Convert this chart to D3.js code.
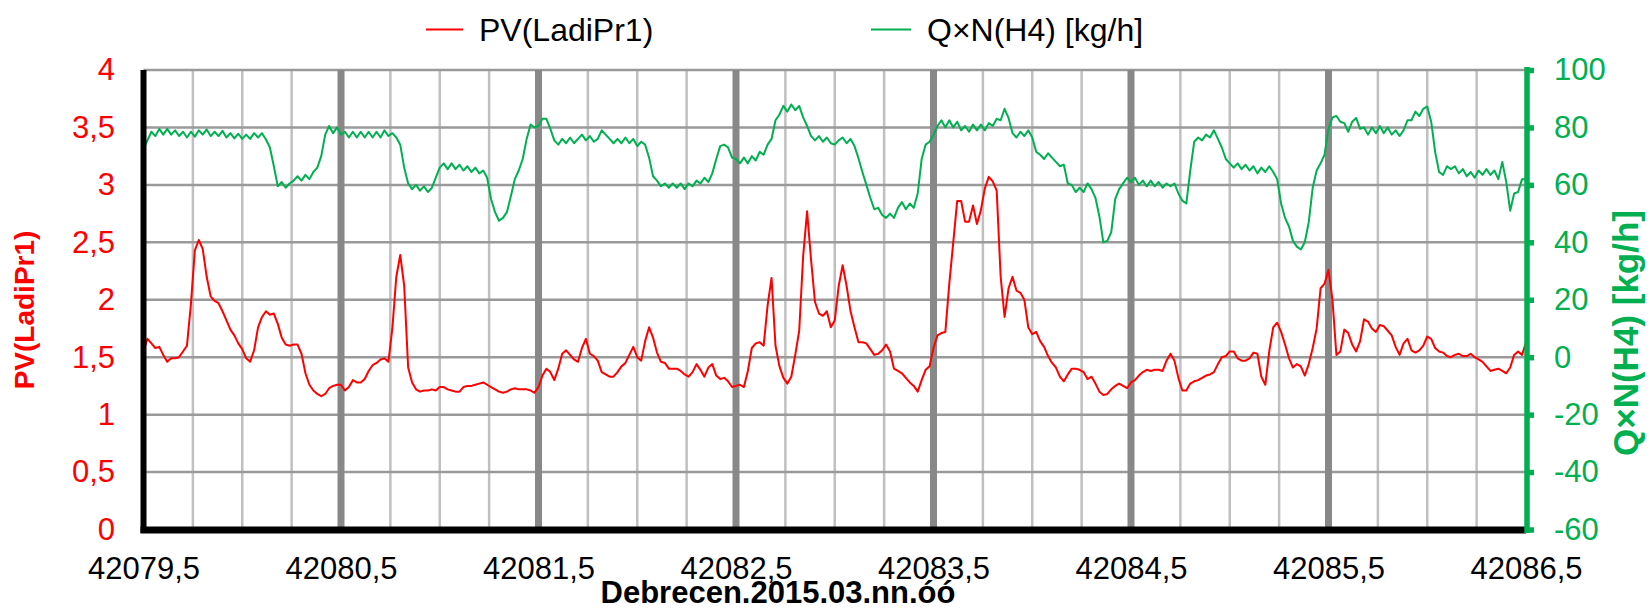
<!DOCTYPE html>
<html><head><meta charset="utf-8">
<script src="https://cdn.jsdelivr.net/npm/d3@7"></script>
<style>body{margin:0;background:#fff;overflow:hidden} text{font-family:"Liberation Sans",Arial,sans-serif}</style>
</head><body><svg id="c" width="1651" height="609"></svg>
<script>
// time axis: start day and sampling step (days)
const t0 = 42079.5, dt = 0.02;
// PV(LadiPr1)
const pv = [
1.55,1.66,1.62,1.58,1.59,1.52,1.46,1.49,1.49,1.50,
1.55,1.60,1.96,2.43,2.52,2.44,2.20,2.03,1.99,1.97,
1.90,1.82,1.74,1.69,1.62,1.57,1.49,1.46,1.56,1.76,
1.85,1.90,1.87,1.88,1.79,1.67,1.61,1.60,1.61,1.61,
1.53,1.36,1.26,1.21,1.18,1.16,1.18,1.23,1.25,1.26,
1.26,1.21,1.24,1.30,1.28,1.28,1.31,1.38,1.43,1.45,
1.48,1.49,1.46,1.75,2.20,2.39,2.12,1.41,1.28,1.22,
1.20,1.21,1.21,1.22,1.21,1.24,1.24,1.22,1.21,1.20,
1.20,1.24,1.25,1.25,1.26,1.27,1.28,1.26,1.24,1.22,
1.20,1.19,1.20,1.22,1.23,1.22,1.22,1.22,1.21,1.19,
1.24,1.34,1.40,1.37,1.30,1.40,1.53,1.56,1.52,1.48,
1.46,1.58,1.66,1.53,1.51,1.47,1.37,1.35,1.33,1.33,
1.37,1.42,1.45,1.52,1.59,1.50,1.47,1.64,1.76,1.67,
1.54,1.46,1.45,1.40,1.40,1.40,1.38,1.35,1.33,1.37,
1.44,1.39,1.33,1.41,1.44,1.34,1.31,1.32,1.29,1.24,
1.25,1.26,1.24,1.38,1.58,1.62,1.63,1.60,1.95,2.19,
1.60,1.42,1.32,1.27,1.33,1.52,1.73,2.38,2.77,2.35,
1.98,1.88,1.86,1.90,1.76,1.82,2.12,2.30,2.12,1.90,
1.76,1.63,1.63,1.62,1.57,1.52,1.53,1.56,1.61,1.55,
1.40,1.38,1.36,1.32,1.28,1.25,1.20,1.30,1.39,1.42,
1.58,1.69,1.71,1.72,2.14,2.50,2.86,2.86,2.68,2.68,
2.82,2.66,2.78,2.97,3.07,3.03,2.95,2.20,1.85,2.10,
2.20,2.08,2.06,2.00,1.76,1.70,1.72,1.64,1.59,1.51,
1.45,1.41,1.33,1.29,1.35,1.40,1.40,1.39,1.37,1.31,
1.33,1.27,1.20,1.17,1.18,1.22,1.25,1.27,1.25,1.23,
1.28,1.30,1.34,1.37,1.39,1.38,1.39,1.39,1.38,1.47,
1.53,1.47,1.32,1.21,1.21,1.27,1.29,1.30,1.32,1.34,
1.35,1.37,1.44,1.50,1.51,1.55,1.55,1.49,1.47,1.47,
1.49,1.54,1.53,1.33,1.26,1.55,1.76,1.80,1.72,1.61,
1.49,1.41,1.44,1.42,1.34,1.44,1.58,1.75,2.10,2.14,
2.26,2.00,1.52,1.55,1.74,1.71,1.61,1.55,1.64,1.83,
1.81,1.75,1.72,1.78,1.77,1.73,1.69,1.59,1.52,1.62,
1.66,1.56,1.54,1.56,1.60,1.68,1.66,1.58,1.55,1.54,
1.51,1.50,1.52,1.53,1.51,1.51,1.53,1.50,1.48,1.46,
1.42,1.38,1.39,1.40,1.38,1.36,1.41,1.52,1.55,1.52,
1.63];
// Q×N(H4) [kg/h]
const qn = [
72.5,75.5,78.5,77,79.5,77.5,79.5,77.5,79,77,
78.5,76.5,78.5,76.8,79,77.5,79.3,77,78.5,77,
78.8,76.5,78,76.2,77.8,76,77.5,76,78,76.5,
78,75.8,73,66.5,59.5,61,59,60.5,61.5,63,
61.5,63.5,62,64.5,66,70,77.5,80.5,78,80,
77.5,78.5,76.5,78.5,76.5,78.5,76.5,78.5,76.5,78.5,
76.5,79,77,78,76.5,74,66,60.5,58.5,60,
58,59.5,57.5,59,62.5,66,67.5,65.5,67.5,65.5,
67,65,66.5,64.5,66,64,65,62.5,55,50.5,
47.5,48.5,50.5,56,62,65,69,76,81,80,
80.5,83,83,79.5,75.5,74,76,74.5,76.5,74.5,
76,77.5,75.5,77,75,76,79,77.5,76,74.5,
76,74.5,76.5,74.5,76,73.5,75,74,69.5,63,
61.5,59.5,60.5,59,60.5,59,60.5,58.5,60.5,59.5,
61.5,60.5,62.5,61,64,69,73.5,74,73,69.5,
69,67.5,69.5,67.5,70,68.5,71.5,70.5,74,76,
82.5,84.5,87.5,85.5,88,86,87.5,83.5,80.5,77,
75.5,77,75,76.5,74.5,74,75.5,76.5,74.5,76,
73.5,69.3,64.5,60,55.5,51.5,52,49.5,48.5,50,
48.5,52,54,51.5,53.5,52,57,69,74,75,
77.4,80.5,82.5,80,82.5,80,82,79,80.5,78.5,
81,79,81,79,81.5,80.5,83,82.5,86.5,83.3,
78,76.5,78.5,77,79,76.5,71.5,70.5,69,71,
69.5,68,66.5,67,60.5,60,57.5,59,57.5,60.5,
58.5,55.5,49,40,40.5,43.5,55,58.5,60.5,62.5,
61,62.5,60,61.5,59.5,61.5,59.5,61,59,60.5,
59.5,60.5,57,54.5,53.5,65,75,76.5,75.5,77.5,
76.5,79,76,73,69,67.5,66,67.5,65.5,67,
65,66.5,64,66,64.5,66.5,64.5,62,53.5,48.5,
45.5,40.5,38.5,37.5,40,47,59,65,67.5,70.5,
79.5,83.5,84,82,81.5,78.5,82,83.3,79.5,80,
77.5,80,78,80.5,78,80,77.5,79,77,79,
82.5,82.5,85.5,84,86.5,87.3,82,71.5,64.5,63.5,
66.5,65.5,66.5,64,65.5,63,64.5,62.5,65,63.5,
65.5,63.5,65,62,68,61,51,57,57.5,62,
62];
const xTicks = [42079.5,42080.5,42081.5,42082.5,42083.5,42084.5,42085.5,42086.5];
const leftTicks = [0,0.5,1,1.5,2,2.5,3,3.5,4];
const rightTicks = [-60,-40,-20,0,20,40,60,80,100];
const seriesNames = ["PV(LadiPr1)","Q×N(H4) [kg/h]"];
const xTitle = "Debrecen.2015.03.nn.óó";

const RED = "#ff0000", GREEN = "#00b050";
const svg = d3.select("#c");
const L = 143.5, R = 1526, T = 70, B = 529.5;
const x = d3.scaleLinear([t0, 42086.5], [L, R]);
const yL = d3.scaleLinear([0, 4], [B, T]);
const yR = d3.scaleLinear([-60, 100], [B, T]);
const fmt = v => String(v).replace(".", ",");

// grid
const g = svg.append("g");
const vGrid = d3.range(t0, 42086.5 + 1e-9, 0.25);
g.selectAll(".vm").data(vGrid.filter(v => Math.abs((v - t0) % 1) > 1e-6))
  .join("line").attr("x1", d => x(d)).attr("x2", d => x(d)).attr("y1", T).attr("y2", B)
  .attr("stroke", "#c0c0c0").attr("stroke-width", 2.5);
g.selectAll(".hm").data(leftTicks.filter(v => v > 0))
  .join("line").attr("x1", L).attr("x2", R).attr("y1", d => yL(d)).attr("y2", d => yL(d))
  .attr("stroke", "#9a9a9a").attr("stroke-width", 2.5);
g.selectAll(".vM").data(xTicks.slice(1, -1))
  .join("line").attr("x1", d => x(d)).attr("x2", d => x(d)).attr("y1", T).attr("y2", B)
  .attr("stroke", "#888888").attr("stroke-width", 7);

// series
const tx = (d, i) => x(t0 + i * dt);
svg.append("path").datum(qn).attr("fill", "none").attr("stroke", GREEN).attr("stroke-width", 2)
  .attr("stroke-linejoin", "round")
  .attr("d", d3.line().x(tx).y(d => yR(d)));
svg.append("path").datum(pv).attr("fill", "none").attr("stroke", RED).attr("stroke-width", 2)
  .attr("stroke-linejoin", "round")
  .attr("d", d3.line().x(tx).y(d => yL(d)));

// left axis
const ax = svg.append("g").attr("transform", `translate(${L},0)`)
  .call(d3.axisLeft(yL).tickValues(leftTicks).tickFormat(fmt).tickSize(0).tickPadding(28.5));
ax.select(".domain").remove();
ax.selectAll("text").attr("fill", RED).attr("font-size", 31).attr("font-family", null);
svg.append("line").attr("x1", L).attr("x2", L).attr("y1", T).attr("y2", B + 3.5)
  .attr("stroke", "#000").attr("stroke-width", 6);

// bottom axis
const bx = svg.append("g").attr("transform", `translate(0,${B})`)
  .call(d3.axisBottom(x).tickValues(xTicks).tickFormat(fmt).tickSize(0).tickPadding(27));
bx.select(".domain").remove();
bx.selectAll("text").attr("fill", "#000").attr("font-size", 31).attr("font-family", null);
svg.append("line").attr("x1", L - 3).attr("x2", R).attr("y1", B + 0.5).attr("y2", B + 0.5)
  .attr("stroke", "#000").attr("stroke-width", 7);

// right axis
const rx = svg.append("g").attr("transform", `translate(${R + 1},0)`)
  .call(d3.axisRight(yR).tickValues(rightTicks).tickFormat(fmt).tickSize(7).tickPadding(20));
rx.select(".domain").remove();
rx.selectAll("line").attr("stroke", GREEN).attr("stroke-width", 5.5);
rx.selectAll("text").attr("fill", GREEN).attr("font-size", 31).attr("font-family", null);
svg.append("line").attr("x1", R + 1).attr("x2", R + 1).attr("y1", T - 3).attr("y2", B + 3.5)
  .attr("stroke", GREEN).attr("stroke-width", 5.5);

// titles
svg.append("text").attr("transform", "translate(24,310) rotate(-90)")
  .attr("text-anchor", "middle").attr("dy", "0.35em").attr("font-weight", "bold")
  .attr("font-size", 28).attr("fill", RED).text(seriesNames[0]);
svg.append("text").attr("transform", "translate(1626,333) rotate(-90)")
  .attr("text-anchor", "middle").attr("dy", "0.35em").attr("font-weight", "bold")
  .attr("font-size", 35).attr("fill", GREEN).text(seriesNames[1]);
svg.append("text").attr("x", 778).attr("y", 603).attr("text-anchor", "middle")
  .attr("font-weight", "bold").attr("font-size", 31).attr("fill", "#000").text(xTitle);

// legend
const leg = [{n: seriesNames[0], c: RED, x1: 426, x2: 463, tx: 479},
             {n: seriesNames[1], c: GREEN, x1: 871, x2: 911, tx: 927}];
leg.forEach(l => {
  svg.append("line").attr("x1", l.x1).attr("x2", l.x2).attr("y1", 29.5).attr("y2", 29.5)
    .attr("stroke", l.c).attr("stroke-width", 2);
  svg.append("text").attr("x", l.tx).attr("y", 29.5).attr("dy", "0.35em")
    .attr("font-size", 32).attr("fill", "#000").text(l.n);
});
</script></body></html>
